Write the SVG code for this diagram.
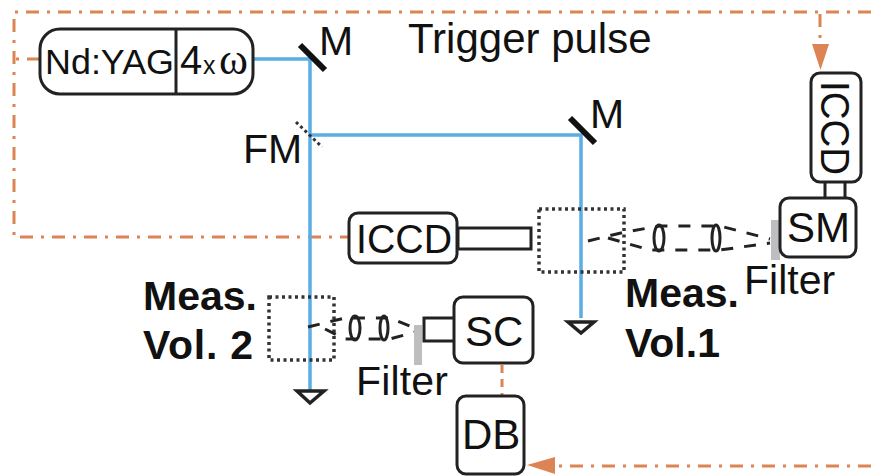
<svg xmlns="http://www.w3.org/2000/svg" width="871" height="476" viewBox="0 0 871 476">
<style>
text{font-family:"Liberation Sans",Arial,sans-serif;fill:#111}
.t{font-size:41px}
.b{font-size:41px;font-weight:bold}
.box{fill:#fff;stroke:#222;stroke-width:3}
.beam{fill:none;stroke:#5aaee3;stroke-width:3.5}
.trig{fill:none;stroke:#dc8454;stroke-width:3;stroke-dasharray:13 8 3 8}
.mir{stroke:#111;stroke-width:6}
.vol{fill:none;stroke:#333;stroke-width:3.500;stroke-dasharray:3 3.500}
.ray{fill:none;stroke:#222;stroke-width:3;stroke-dasharray:12 11}
.lens{fill:none;stroke:#222;stroke-width:3}
.dump{fill:#fff;stroke:#222;stroke-width:3.5}
.filt{fill:#bdbec0}
</style>
<rect width="871" height="476" fill="#fff"/>
<g id="connectors">
<path class="trig" d="M871 12H14V237H350"/>
<path class="trig" d="M40 59H14"/>
<path class="trig" d="M820 14V46"/>
<path d="M812 44H829L820.500 70Z" fill="#dc8454"/>
<path class="trig" d="M502 365V395" style="stroke-dasharray:8 6"/>
<path class="trig" d="M871 466H555"/>
<path d="M527 465L555 457V474Z" fill="#dc8454"/>
<path class="beam" d="M253 59H310V390"/>
<path class="beam" d="M310 135H581V318"/>
</g>
<g id="laser">
<rect class="box" x="40" y="29" width="213" height="65" rx="20"/>
<path d="M176 29V94" stroke="#222" stroke-width="3"/>
<text x="45" y="74" style="font-size:35px" textLength="129" lengthAdjust="spacingAndGlyphs">Nd:YAG</text>
<text x="180" y="74" style="font-size:40px">4</text>
<text x="203" y="74" style="font-size:25px">x</text>
<text x="219" y="74" style="font-size:44px;font-family:'Liberation Serif',serif">ω</text>
</g>
<g id="mirror-1"><path class="mir" d="M300 45L325 70"/><text class="t" x="319" y="55">M</text></g>
<g id="flip-mirror">
<path d="M296 122L322 147" stroke="#333" stroke-width="3" stroke-dasharray="3 3"/>
<text class="t" x="243" y="163">FM</text>
</g>
<g id="mirror-2"><path class="mir" d="M570 118L595 143"/><text class="t" x="590" y="128">M</text></g>
<text id="trigger-label" x="408" y="53" style="font-size:42px">Trigger pulse</text>
<g id="iccd-1">
<rect class="box" x="458" y="228" width="73" height="21"/>
<rect class="box" x="349" y="213" width="108" height="50" rx="9"/>
<text x="356" y="253" style="font-size:40px" textLength="96" lengthAdjust="spacingAndGlyphs">ICCD</text>
</g>
<g id="iccd-2">
<rect class="box" x="825" y="180" width="20" height="20"/>
<rect class="box" x="811" y="73" width="50" height="109" rx="9"/>
<text transform="translate(821 81) rotate(90)" style="font-size:40px" textLength="94" lengthAdjust="spacingAndGlyphs">ICCD</text>
</g>
<g id="sm">
<rect class="filt" x="771" y="220" width="9" height="40"/>
<rect class="box" x="780" y="198" width="76" height="59" rx="9"/>
<text x="787" y="242" style="font-size:42px">SM</text>
</g>
<text id="filter-1" class="t" x="744" y="294">Filter</text>
<g id="vol-1"><rect class="vol" x="539" y="209" width="85" height="63"/>
<path class="ray" d="M588 241L625 232L660 226H720L770 239"/>
<path class="ray" d="M608 238L650 250H720L770 243"/>
<ellipse class="lens" cx="659" cy="238" rx="5" ry="13"/>
<ellipse class="lens" cx="716" cy="238" rx="4" ry="13"/>
</g>
<path id="dump-1" class="dump" d="M568 322H594L581 333Z"/>
<g id="label-vol1"><text class="b" x="625" y="307">Meas.</text><text class="b" x="625" y="357">Vol.1</text></g>
<g id="vol-2"><rect class="vol" x="269" y="297" width="65" height="63"/>
<path class="ray" d="M308 327L345 318H390L415 328"/>
<path class="ray" d="M325 329L345 339H390L415 332"/>
<ellipse class="lens" cx="355" cy="328" rx="5" ry="12"/>
<ellipse class="lens" cx="384" cy="328" rx="4" ry="12"/>
</g>
<path id="dump-2" class="dump" d="M297 391H324L310 403Z"/>
<g id="label-vol2"><text class="b" x="143" y="310">Meas.</text><text class="b" x="143" y="359" textLength="110">Vol. 2</text></g>
<rect id="filter-bar-2" class="filt" x="414" y="325" width="8" height="40"/>
<text id="filter-2" class="t" x="356" y="395" textLength="92">Filter</text>
<g id="sc">
<rect class="box" x="424" y="318" width="32" height="23"/>
<rect class="box" x="454" y="297" width="79" height="66" rx="9"/>
<text x="465" y="346" style="font-size:42px">SC</text>
</g>
<g id="db">
<rect class="box" x="457" y="396" width="67" height="78" rx="9"/>
<text x="462" y="449" style="font-size:42px">DB</text>
</g>
</svg>
